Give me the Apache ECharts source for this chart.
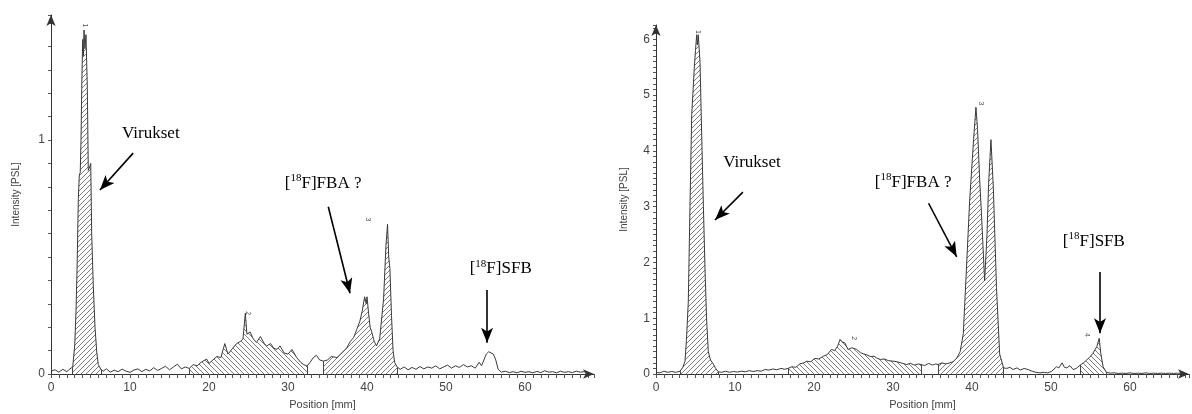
<!DOCTYPE html>
<html><head><meta charset="utf-8">
<script src="https://cdn.jsdelivr.net/npm/echarts@6/dist/echarts.min.js"></script>
<style>html,body{margin:0;padding:0;background:#fff}#c{width:1192px;height:414px}</style>
</head><body><div id="c"></div>
<script>
// ---------- data ----------
const xTickLabels = ['0', '10', '20', '30', '40', '50', '60'];
const leftYTickLabels = ['0', '1'];
const rightYTickLabels = ['0', '1', '2', '3', '4', '5', '6'];

const leftPos = [0.0,0.5,1.0,1.5,2.0,2.4,2.75,3.0,3.16,3.3,3.46,3.58,3.7,3.8,3.89,4.01,4.1,4.18,4.3,4.43,4.6,4.72,4.85,5.03,5.15,5.35,5.57,5.8,5.99,6.3,6.6,7.0,7.5,8.0,8.5,9.0,9.5,10.0,10.5,11.0,11.5,12.0,12.5,13.0,13.5,14.0,14.5,15.0,15.5,16.0,16.5,17.0,17.5,18.0,18.5,19.0,19.7,20.0,20.5,21.0,21.5,22.0,22.4,23.0,23.5,24.0,24.3,24.6,24.8,25.2,25.6,26.0,26.5,27.0,27.3,27.8,28.2,28.6,29.0,29.5,30.0,30.5,31.1,31.6,32.0,32.4,32.8,33.2,33.6,34.0,34.5,35.0,35.5,36.2,36.8,37.4,37.9,38.3,38.7,39.1,39.4,39.7,39.9,40.0,40.2,40.4,40.6,40.9,41.2,41.6,42.1,42.4,42.6,42.75,42.9,43.1,43.3,43.5,43.8,44.2,44.7,45.2,45.7,46.2,46.7,47.2,47.7,48.2,48.7,49.2,49.7,50.2,50.7,51.2,51.7,52.2,52.7,53.2,53.7,54.2,54.5,54.8,55.1,55.4,55.7,56.0,56.3,56.6,57.0,57.5,58.0,58.5,59.0,59.5,60.0,60.5,61.0,61.5,62.0,62.5,63.0,63.5,64.0,64.5,65.0,65.5,66.0,66.5,67.0,67.5,68.0];
const leftPsl = [0.012,0.018,0.008,0.02,0.01,0.022,0.03,0.12,0.26,0.45,0.75,0.85,0.86,1.0,1.22,1.43,1.36,1.47,1.39,1.45,1.22,0.87,0.88,0.9,0.6,0.38,0.2,0.09,0.04,0.02,0.012,0.022,0.008,0.016,0.01,0.021,0.012,0.007,0.017,0.022,0.01,0.02,0.013,0.027,0.015,0.024,0.033,0.018,0.03,0.042,0.022,0.03,0.024,0.04,0.035,0.05,0.064,0.045,0.06,0.075,0.07,0.13,0.085,0.11,0.13,0.14,0.15,0.26,0.17,0.18,0.15,0.135,0.16,0.13,0.12,0.13,0.11,0.105,0.12,0.09,0.085,0.105,0.07,0.05,0.04,0.034,0.05,0.07,0.08,0.06,0.055,0.06,0.075,0.07,0.09,0.11,0.14,0.155,0.19,0.226,0.27,0.33,0.3,0.33,0.26,0.2,0.18,0.14,0.12,0.15,0.32,0.55,0.64,0.5,0.45,0.25,0.1,0.05,0.03,0.02,0.03,0.018,0.028,0.02,0.032,0.022,0.03,0.025,0.035,0.022,0.03,0.038,0.025,0.035,0.028,0.04,0.03,0.035,0.025,0.05,0.035,0.06,0.085,0.095,0.09,0.085,0.06,0.02,0.008,0.012,0.006,0.01,0.005,0.012,0.007,0.01,0.005,0.011,0.006,0.014,0.008,0.01,0.005,0.012,0.007,0.01,0.006,0.012,0.008,0.01,0.006];

const rightPos = [0.0,0.5,1.0,1.5,2.0,2.5,3.04,3.4,3.67,3.85,4.09,4.3,4.52,4.7,4.85,5.0,5.15,5.25,5.35,5.57,5.78,6.0,6.2,6.4,6.62,6.9,7.25,7.55,7.89,8.3,8.8,9.3,9.8,10.3,10.8,11.3,11.8,12.3,12.8,13.3,13.8,14.3,14.8,15.3,15.8,16.3,16.7,17.2,17.7,18.2,18.7,19.1,19.6,20.1,20.6,21.2,21.7,22.2,22.6,23.0,23.3,23.6,23.9,24.3,24.8,25.4,25.9,26.3,26.7,27.2,27.6,27.9,28.4,28.9,29.4,30.0,30.5,31.0,31.7,32.2,32.7,33.2,33.6,34.0,34.5,35.0,35.4,35.7,36.2,36.7,37.2,37.6,38.1,38.5,38.9,39.3,39.7,40.2,40.5,40.7,41.0,41.2,41.6,41.9,42.1,42.4,42.7,43.1,43.5,44.0,44.4,44.8,45.2,45.7,46.1,46.6,47.1,47.6,48.1,48.6,49.1,49.6,50.1,50.7,51.0,51.4,51.7,52.0,52.4,52.8,53.2,53.7,54.1,54.5,54.9,55.3,55.8,56.1,56.3,56.6,57.0,57.5,58.0,58.5,59.0,59.5,60.0,60.5,61.0,61.5,62.0,62.5,63.0,63.5,64.0,64.5,65.0,65.5,66.0,66.5];
const rightPsl = [0.03,0.02,0.05,0.03,0.045,0.03,0.05,0.12,0.23,0.6,1.3,3.0,4.65,5.1,5.5,5.8,6.08,5.9,6.08,5.6,4.3,3.0,1.9,1.0,0.4,0.25,0.18,0.1,0.04,0.03,0.05,0.03,0.045,0.035,0.05,0.04,0.06,0.045,0.06,0.05,0.08,0.07,0.09,0.075,0.1,0.085,0.1,0.13,0.12,0.18,0.2,0.23,0.22,0.28,0.27,0.32,0.35,0.44,0.42,0.5,0.62,0.57,0.56,0.44,0.47,0.44,0.38,0.36,0.34,0.31,0.32,0.29,0.26,0.27,0.24,0.23,0.22,0.2,0.17,0.19,0.16,0.18,0.17,0.15,0.19,0.16,0.18,0.17,0.2,0.18,0.2,0.22,0.29,0.4,0.72,1.9,3.1,4.2,4.78,4.4,3.4,2.87,1.67,2.5,3.4,4.2,3.34,1.55,0.36,0.11,0.1,0.12,0.08,0.11,0.07,0.1,0.08,0.05,0.03,0.02,0.03,0.02,0.05,0.13,0.11,0.2,0.12,0.11,0.15,0.08,0.1,0.16,0.2,0.25,0.3,0.37,0.49,0.64,0.37,0.13,0.03,0.015,0.02,0.01,0.015,0.01,0.02,0.01,0.015,0.01,0.02,0.01,0.015,0.01,0.015,0.01,0.015,0.01,0.015,0.01];

// integration regions [from mm, to mm, hatch direction]
const leftRegions = [[2.75, 6.3, '/'], [17.5, 32.4, '\\'], [34.5, 43.8, '/']];
const rightRegions = [[3.04, 7.89, '/'], [16.7, 33.6, '\\'], [35.7, 44.0, '/'], [53.7, 57.0, '\\']];

// peak numbers [text, mm, PSL]
const leftPeakLabels = [['1', 4.3, 1.49], ['2', 24.9, 0.26], ['3', 40.1, 0.66]];
const rightPeakLabels = [['1', 5.3, 6.13], ['2', 25.1, 0.64], ['3', 41.1, 4.85], ['4', 54.6, 0.70]];

// annotations: [text, textX, textY, arrowFromX, arrowFromY, arrowToX, arrowToY]
const leftNotes = [
  ['Virukset', 9.0, 1.034, 10.4, 0.944, 6.2, 0.786],
  ['FBA', 29.6, 0.82, 35.1, 0.715, 37.85, 0.345],
  ['SFB', 53.0, 0.453, 55.2, 0.359, 55.2, 0.134]
];
const rightNotes = [
  ['Virukset', 8.5, 3.8, 11.0, 3.26, 7.47, 2.76],
  ['FBA', 27.7, 3.45, 34.5, 3.06, 38.06, 2.10],
  ['SFB', 51.5, 2.4, 56.2, 1.83, 56.2, 0.73]
];
const noteTexts = {
  Virukset: '{n|Virukset}',
  FBA: '{n|[}{s|18}{n|F]FBA ?}',
  SFB: '{n|[}{s|18}{n|F]SFB}'
};

// ---------- build ----------
const chart = echarts.init(document.getElementById('c'), null, {renderer: 'canvas'});

function hatch(dir) {
  const s = 5;
  const c = document.createElement('canvas');
  c.width = s; c.height = s;
  const g = c.getContext('2d');
  g.strokeStyle = '#6e6e6e';
  g.lineWidth = 0.9;
  g.beginPath();
  if (dir === '/') {
    g.moveTo(0, s); g.lineTo(s, 0);
    g.moveTo(-s / 2, s / 2); g.lineTo(s / 2, -s / 2);
    g.moveTo(s / 2, s * 1.5); g.lineTo(s * 1.5, s / 2);
  } else {
    g.moveTo(0, 0); g.lineTo(s, s);
    g.moveTo(-s / 2, s / 2); g.lineTo(s / 2, s * 1.5);
    g.moveTo(s / 2, -s / 2); g.lineTo(s * 1.5, s / 2);
  }
  g.stroke();
  return c;
}
const patterns = {'/': hatch('/'), '\\': hatch('\\')};

const pairs = (xs, ys) => xs.map((x, i) => [x, ys[i]]);
const leftData = pairs(leftPos, leftPsl);
const rightData = pairs(rightPos, rightPsl);

const labelFont = 'Liberation Sans Narrow, Liberation Sans, Arial, sans-serif';
const isInt = (v, step) => Math.abs(v / step - Math.round(v / step)) < 1e-6;

function xAxisCfg(gi, max) {
  return {
    type: 'value', gridIndex: gi, min: 0, max: max, interval: 1,
    name: 'Position [mm]', nameLocation: 'middle', nameGap: 25,
    nameTextStyle: {fontFamily: labelFont, fontSize: 11, color: '#444'},
    axisLine: {show: true, onZero: false, lineStyle: {color: '#333', width: 1}, symbol: ['none', 'arrow'], symbolSize: [7, 11]},
    axisTick: {show: true, inside: false, length: 4, lineStyle: {color: '#555', width: 1}},
    axisLabel: {
      show: true, margin: 8, fontFamily: labelFont, fontSize: 12, color: '#444',
      formatter: v => (isInt(v, 10) && xTickLabels.includes(String(Math.round(v)))) ? String(Math.round(v)) : ''
    },
    splitLine: {show: false}
  };
}
function yAxisCfg(gi, max, labels, gap) {
  return {
    type: 'value', gridIndex: gi, min: 0, max: max, interval: 0.1,
    name: 'Intensity [PSL]', nameLocation: 'middle', nameGap: gap, nameRotate: 90,
    nameTextStyle: {fontFamily: labelFont, fontSize: 10, color: '#444'},
    axisLine: {show: true, onZero: false, lineStyle: {color: '#333', width: 1}, symbol: ['none', 'arrow'], symbolSize: [7, 11]},
    axisTick: {show: true, inside: false, length: 3, lineStyle: {color: '#555', width: 1}},
    axisLabel: {
      show: true, margin: 6, fontFamily: labelFont, fontSize: 12, color: '#444',
      formatter: v => (isInt(v, 1) && labels.includes(String(Math.round(v)))) ? String(Math.round(v)) : ''
    },
    splitLine: {show: false}
  };
}

function regionSeries(gi, data, regions) {
  return regions.map(([a, b, dir]) => {
    const sub = data.filter(p => p[0] >= a - 1e-9 && p[0] <= b + 1e-9);
    const first = sub[0], last = sub[sub.length - 1];
    return {
      type: 'line', xAxisIndex: gi, yAxisIndex: gi, data: sub,
      showSymbol: false, silent: true, z: 2,
      lineStyle: {width: 0, opacity: 0},
      areaStyle: {color: {image: patterns[dir], repeat: 'repeat'}, opacity: 1},
      markLine: {
        silent: true, symbol: ['none', 'none'], animation: false,
        label: {show: false},
        lineStyle: {color: '#444', width: 1, type: 'solid'},
        data: [
          [{coord: [first[0], 0]}, {coord: [first[0], first[1]]}],
          [{coord: [last[0], 0]}, {coord: [last[0], last[1]]}]
        ]
      }
    };
  });
}

function traceSeries(gi, data, notes) {
  return {
    type: 'line', xAxisIndex: gi, yAxisIndex: gi, data: data,
    showSymbol: false, silent: true, z: 3,
    lineStyle: {color: '#3a3a3a', width: 1},
    markLine: {
      silent: true, animation: false,
      symbol: ['none', 'arrow'], symbolSize: [9, 15],
      label: {show: false},
      lineStyle: {color: '#000', width: 1.6, type: 'solid'},
      itemStyle: {color: '#000'},
      data: notes.map(n => [{coord: [n[3], n[4]]}, {coord: [n[5], n[6]]}])
    }
  };
}

const option = {
  backgroundColor: '#fff',
  animation: false,
  grid: [
    {left: 51, top: 15, width: 543, height: 359, outerBoundsMode: 'none', containLabel: false},
    {left: 656, top: 25, width: 533, height: 349, outerBoundsMode: 'none', containLabel: false}
  ],
  xAxis: [xAxisCfg(0, 543 / 7.9), xAxisCfg(1, 533 / 7.9)],
  yAxis: [yAxisCfg(0, 359 / 234, leftYTickLabels, 30), yAxisCfg(1, 349 / 55.8, rightYTickLabels, 27)],
  series: [
    ...regionSeries(0, leftData, leftRegions),
    traceSeries(0, leftData, leftNotes),
    ...regionSeries(1, rightData, rightRegions),
    traceSeries(1, rightData, rightNotes)
  ]
};
chart.setOption(option);

// annotation texts and peak numbers, placed through the grids' coordinate systems
const richStyle = {
  n: {fontFamily: 'Liberation Serif, Times New Roman, serif', fontSize: 17, lineHeight: 19, verticalAlign: 'bottom', fill: '#000'},
  s: {fontFamily: 'Liberation Serif, Times New Roman, serif', fontSize: 11, lineHeight: 11, verticalAlign: 'top', fill: '#000'}
};
const graphics = [];
[[0, leftNotes], [1, rightNotes]].forEach(([gi, notes]) => {
  notes.forEach(n => {
    const p = chart.convertToPixel({gridIndex: gi}, [n[1], n[2]]);
    graphics.push({
      type: 'text', x: p[0], y: p[1], silent: true, z: 10,
      style: {text: noteTexts[n[0]], rich: richStyle, align: 'left', verticalAlign: 'middle', fill: '#000',
        font: '17px Liberation Serif'}
    });
  });
});
[[0, leftPeakLabels], [1, rightPeakLabels]].forEach(([gi, labels]) => {
  labels.forEach(l => {
    const p = chart.convertToPixel({gridIndex: gi}, [l[1], l[2]]);
    graphics.push({
      type: 'text', x: p[0], y: p[1], rotation: -Math.PI / 2, silent: true, z: 10,
      style: {text: l[0], fontSize: 7, fontFamily: 'Liberation Sans, sans-serif', fill: '#555', align: 'center', verticalAlign: 'middle'}
    });
  });
});
chart.setOption({graphic: graphics});
</script>
</body></html>
